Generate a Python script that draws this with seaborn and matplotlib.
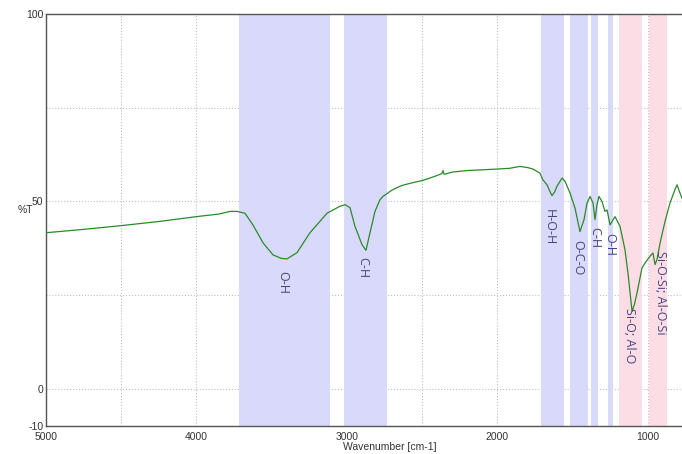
import numpy as np
import pandas as pd
import matplotlib
matplotlib.use("Agg")
import matplotlib.pyplot as plt
import seaborn as sns

sns.set_theme(style="white")
plt.rcParams["font.family"] = ["Liberation Sans", "DejaVu Sans"]

# -------------------------------------------------------
# spectrum (wavenumber, %T)
# -------------------------------------------------------

wavenumber = [5000, 4750, 4500, 4250, 4000, 3850, 3777, 3730, 3678, 3625, 3558,
              3492, 3440, 3399, 3332, 3246, 3133, 3050, 3013, 2980, 2947,
              2900, 2874, 2847, 2814, 2781, 2761, 2700, 2648, 2628, 2560,
              2495, 2449, 2400, 2370, 2362, 2355, 2300, 2203, 2100, 2003,
              1920, 1850, 1800, 1764, 1718, 1698, 1671, 1650, 1638, 1620,
              1605, 1571, 1551, 1518, 1485, 1452, 1425, 1405, 1385, 1365,
              1352, 1339, 1326, 1306, 1286, 1272, 1252, 1219, 1186, 1153,
              1133, 1106, 1090, 1073, 1040, 1020, 987, 967, 953, 940,
              920, 887, 854, 821, 807, 795, 774]
transmittance = [41.6, 42.5, 43.5, 44.6, 45.9, 46.6, 47.3, 47.3, 46.8, 43.7, 38.9,
                 35.7, 34.8, 34.6, 36.3, 41.6, 46.8, 48.6, 49.1, 48.3, 43.3,
                 38.4, 36.9, 41.6, 47.3, 50.4, 51.3, 53.0, 54.0, 54.3, 55.0,
                 55.6, 56.2, 56.9, 57.4, 58.2, 57.2, 57.8, 58.2, 58.4, 58.6,
                 58.8, 59.3, 59.0, 58.6, 57.5, 55.7, 54.4, 52.5, 51.5, 52.5,
                 54.0, 56.2, 55.3, 52.2, 48.2, 41.9, 45.1, 49.5, 51.3, 49.5,
                 45.1, 49.1, 51.3, 50.0, 47.3, 47.7, 43.7, 45.9, 43.3, 37.1,
                 30.8, 20.6, 22.5, 25.5, 32.2, 33.5, 35.3, 36.2, 33.1, 34.5,
                 38.8, 44.6, 49.5, 53.1, 54.4, 53.0, 50.8]

# highlighted regions (start, end) and their labels
band_start = [3720, 3020, 1711, 1518, 1379, 1266, 1193, 993]
band_end   = [3110, 2734, 1558, 1399, 1332, 1233, 1040, 874]
band_kind  = ["blue", "blue", "blue", "blue", "blue", "blue", "pink", "pink"]

label_text = ["O-H", "C-H", "H-O-H", "O-C-O", "C-H", "O-H",
              "Si-O; Al-O", "Si-O-Si; Al-O-Si"]
label_x    = [3425, 2894, 1658, 1465, 1352, 1252, 1120, 914]
label_y    = [28.3, 32.3, 43.0, 35.0, 40.3, 38.4, 14.1, 25.6]

band_colors = {"blue": "#d9d9fb", "pink": "#fddde5"}

df = pd.DataFrame({"wavenumber": wavenumber, "T": transmittance})

# -------------------------------------------------------
# plot
# -------------------------------------------------------

fig = plt.figure(figsize=(6.82, 4.54), dpi=100)
ax = fig.add_axes([46 / 682, 1 - 426 / 454, 1 - 46 / 682, 412 / 454])

for s, e, k in zip(band_start, band_end, band_kind):
    ax.axvspan(e, s, color=band_colors[k], lw=0, zorder=1)

sns.lineplot(data=df, x="wavenumber", y="T", ax=ax, color="#2a8a2a",
             linewidth=0.9, sort=False, zorder=3)

for t, x, y in zip(label_text, label_x, label_y):
    ax.text(x, y, t, rotation=270, ha="center", va="center", fontsize=9,
            color="#45457a", family=["Open Sans", "DejaVu Sans"], zorder=4)

ax.set_xlim(5000, 774)
ax.set_ylim(-10, 100)

ax.set_xticks([5000, 4000, 3000, 2000, 1000])
ax.set_xticks([4500, 3500, 2500, 1500], minor=True)
ax.set_yticks([-10, 0, 25, 50, 75, 100])
ax.set_yticklabels(["-10", "0", "", "50", "", "100"])

ax.grid(True, which="both", linestyle=":", color="#c0c0c0", linewidth=0.8)
ax.tick_params(axis="both", which="both", direction="in", length=3,
               labelsize=7.5, colors="#333333", pad=2, width=0.8)
ax.tick_params(axis="x", pad=4)

ax.set_xlabel("Wavenumber [cm-1]", fontsize=7.5, color="#333333")
ax.xaxis.set_label_coords((390 - 46) / 636, -0.040)
ax.set_ylabel("")
fig.text(25 / 682, 1 - 210 / 454, "%T", fontsize=7.5, color="#333333",
         ha="center", va="center")

for side in ["left", "bottom", "top"]:
    ax.spines[side].set_color("#555555")
    ax.spines[side].set_linewidth(1.0)
ax.spines["right"].set_visible(False)

fig.savefig("out.png", dpi=100)
